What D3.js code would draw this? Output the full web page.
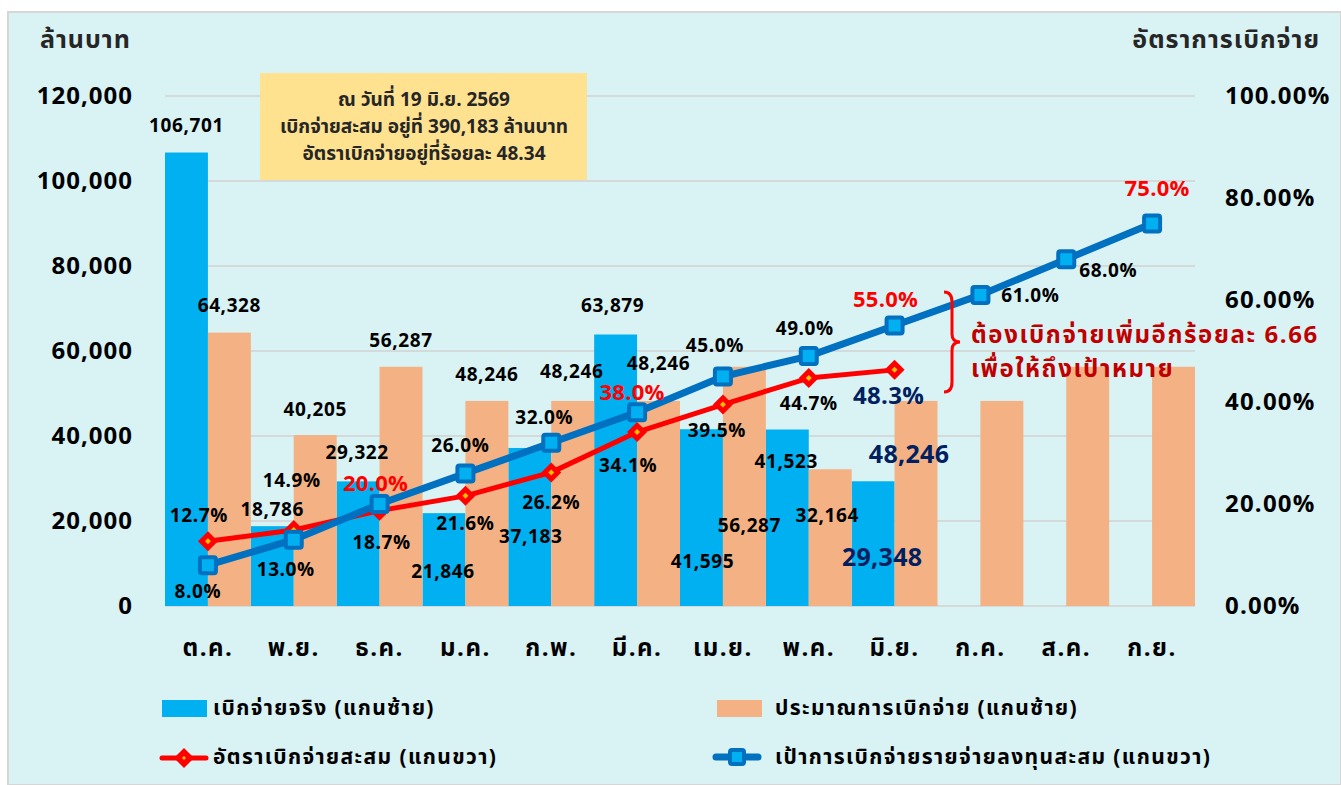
<!DOCTYPE html>
<html>
<head>
<meta charset="utf-8">
<script src="https://cdn.jsdelivr.net/npm/d3@7"></script>
<style>
  body { margin: 0; background: #fff; }
  svg text { font-family: "Noto Sans Thai", "Noto Sans", "DejaVu Sans", sans-serif; font-weight: bold; }
</style>
</head>
<body>
<div id="chart"></div>
<script>
// ---- data ----
var months = ["ต.ค.", "พ.ย.", "ธ.ค.", "ม.ค.", "ก.พ.", "มี.ค.", "เม.ย.", "พ.ค.", "มิ.ย.", "ก.ค.", "ส.ค.", "ก.ย."];
var actual = [106701, 18786, 29322, 21846, 37183, 63879, 41595, 41523, 29348, null, null, null];
var plan = [64328, 40205, 56287, 48246, 48246, 48246, 56287, 32164, 48246, 48246, 56287, 56287];
var cumRate = [12.7, 14.9, 18.7, 21.6, 26.2, 34.1, 39.5, 44.7, 46.3];
var cumRateText = ["12.7%", "14.9%", "18.7%", "21.6%", "26.2%", "34.1%", "39.5%", "44.7%", "48.3%"];
var target = [8.0, 13.0, 20.0, 26.0, 32.0, 38.0, 45.0, 49.0, 55.0, 61.0, 68.0, 75.0];
var leftTicks = [0, 20000, 40000, 60000, 80000, 100000, 120000];
var rightTicks = [0, 0.2, 0.4, 0.6, 0.8, 1.0];

var noteLines = ["ณ วันที่ 19 มิ.ย. 2569", "เบิกจ่ายสะสม อยู่ที่ 390,183 ล้านบาท", "อัตราเบิกจ่ายอยู่ที่ร้อยละ 48.34"];
var gapLines = ["ต้องเบิกจ่ายเพิ่มอีกร้อยละ 6.66", "เพื่อให้ถึงเป้าหมาย"];

// label offsets (dx, dy from the mark)
var actualLbl = [[0,-26],[0,-16],[-1,-28],[-1,59],[1,90],[-3,-28],[1,133],[-1,33],[9,77]];
var planLbl = [[0,-26],[0,-25],[0,-25],[0,-25],[-1,-28],[0,-36],[5,160],[-3,47],[-7,54]];
var targetLbl = [[-10,27],[-8,31],[-4,-20],[-5,-27],[-7,-24],[-5,-19],[-8,-30],[-4,-27],[-9,-25],[50,2],[42,12],[5,-34]];
var rateLbl = [[-9,-25],[-2,-49],[2,33],[0,29],[0,31],[-9,34],[-6,27],[0,26],[-6,27]];

var svgWidth = 1341;
var svgHeight = 785;

var svg = d3.select("#chart")
    .append("svg")
    .attr("width", svgWidth)
    .attr("height", svgHeight);

// panel
svg.append("rect")
    .attr("x", 8).attr("y", 12)
    .attr("width", svgWidth - 8).attr("height", svgHeight - 12)
    .attr("fill", "#d9f2f4")
    .attr("stroke", "#d6d6d6")
    .attr("stroke-width", 2);

var x = d3.scaleBand().domain(months).range([165, 1195]).padding(0);
var y = d3.scaleLinear().domain([0, 120000]).range([606, 96]);
var y2 = d3.scaleLinear().domain([0, 1]).range([606, 96]);
var bw = x.bandwidth() / 2;

// gridlines
svg.append("g").selectAll("line")
    .data(leftTicks)
    .enter().append("line")
    .attr("x1", 165).attr("x2", 1195)
    .attr("y1", d => y(d)).attr("y2", d => y(d))
    .attr("stroke", "#d4d9da")
    .attr("stroke-width", 2);

// axes
var leftAxis = svg.append("g")
    .attr("transform", "translate(137,0)")
    .call(d3.axisLeft(y).tickValues(leftTicks).tickSize(0).tickPadding(4).tickFormat(d3.format(",")));
var rightAxis = svg.append("g")
    .attr("transform", "translate(1221,0)")
    .call(d3.axisRight(y2).tickValues(rightTicks).tickSize(0).tickPadding(4).tickFormat(d3.format(".2%")));
var bottomAxis = svg.append("g")
    .attr("transform", "translate(0,606)")
    .call(d3.axisBottom(x).tickSize(0).tickPadding(33));

[leftAxis, rightAxis, bottomAxis].forEach(function(a) {
    a.select(".domain").remove();
    a.selectAll("text")
        .attr("fill", "#000")
        .style("font-size", "24px")
        .style("letter-spacing", "1px")
        .style("font-family", "\"Noto Sans Thai\", \"Noto Sans\", sans-serif")
        .style("font-weight", "bold");
});
rightAxis.selectAll("text").style("letter-spacing", "1.2px");
bottomAxis.selectAll("text").style("letter-spacing", "1.5px");

// bars
svg.append("g").selectAll("rect")
    .data(months.map((m, i) => ({m: m, v: actual[i]})).filter(d => d.v != null))
    .enter().append("rect")
    .attr("x", d => x(d.m))
    .attr("y", d => y(d.v))
    .attr("width", bw)
    .attr("height", d => y(0) - y(d.v))
    .attr("fill", "#00b0f0");

svg.append("g").selectAll("rect")
    .data(months.map((m, i) => ({m: m, v: plan[i]})))
    .enter().append("rect")
    .attr("x", d => x(d.m) + bw)
    .attr("y", d => y(d.v))
    .attr("width", bw)
    .attr("height", d => y(0) - y(d.v))
    .attr("fill", "#f4b183");

// lines
var cx = m => x(m) + x.bandwidth() / 2;

var targetPts = target.map((v, i) => ({m: months[i], v: v}));
var ratePts = cumRate.map((v, i) => ({m: months[i], v: v}));

var line = d3.line().x(d => cx(d.m)).y(d => y2(d.v / 100));

svg.append("path")
    .datum(ratePts)
    .attr("d", line)
    .attr("fill", "none")
    .attr("stroke", "#ff0000")
    .attr("stroke-width", 5)
    .attr("stroke-linejoin", "round");

svg.append("g").selectAll("g")
    .data(ratePts)
    .enter().append("g")
    .attr("transform", d => `translate(${cx(d.m)},${y2(d.v / 100)})`)
    .each(function() {
        var g = d3.select(this);
        g.append("path").attr("d", "M0,-10L10,0L0,10L-10,0Z").attr("fill", "#ff0000");
        g.append("path").attr("d", "M0,-3L3,0L0,3L-3,0Z").attr("fill", "#ffc000");
    });

svg.append("path")
    .datum(targetPts)
    .attr("d", line)
    .attr("fill", "none")
    .attr("stroke", "#0070c0")
    .attr("stroke-width", 7)
    .attr("stroke-linejoin", "round");

svg.append("g").selectAll("rect")
    .data(targetPts)
    .enter().append("rect")
    .attr("x", d => cx(d.m) - 8)
    .attr("y", d => y2(d.v / 100) - 8)
    .attr("width", 16).attr("height", 16)
    .attr("rx", 2)
    .attr("fill", "#00b0f0")
    .attr("stroke", "#0070c0")
    .attr("stroke-width", 4);

// data labels
function addLabel(tx, ty, text, color, size) {
    svg.append("text")
        .attr("x", tx).attr("y", ty)
        .attr("text-anchor", "middle")
        .attr("dominant-baseline", "central")
        .attr("fill", color)
        .style("font-size", size + "px")
        .style("letter-spacing", size > 20 ? "0.3px" : "0.6px")
        .text(text);
}

actual.forEach(function(v, i) {
    if (v == null) return;
    var big = i === 8;
    addLabel(x(months[i]) + bw / 2 + actualLbl[i][0], y(v) + actualLbl[i][1],
        d3.format(",")(v), big ? "#002060" : "#000", big ? 25 : 19);
});
plan.forEach(function(v, i) {
    if (i > 8) return;
    var big = i === 8;
    addLabel(x(months[i]) + bw * 1.5 + planLbl[i][0], y(v) + planLbl[i][1],
        d3.format(",")(v), big ? "#002060" : "#000", big ? 25 : 19);
});
target.forEach(function(v, i) {
    var red = (i === 2 || i === 5 || i === 8 || i === 11);
    addLabel(cx(months[i]) + targetLbl[i][0], y2(v / 100) + targetLbl[i][1],
        v.toFixed(1) + "%", red ? "#ff0000" : "#000", red ? 22 : 19);
});
cumRate.forEach(function(v, i) {
    var big = i === 8;
    addLabel(cx(months[i]) + rateLbl[i][0], y2(v / 100) + rateLbl[i][1],
        cumRateText[i], big ? "#002060" : "#000", big ? 24 : 19);
});

// axis titles
svg.append("text").attr("x", 40).attr("y", 40)
    .attr("dominant-baseline", "central").attr("fill", "#262626")
    .style("font-size", "25px").style("letter-spacing", "1px").text("ล้านบาท");
svg.append("text").attr("x", 1320).attr("y", 40)
    .attr("text-anchor", "end")
    .attr("dominant-baseline", "central").attr("fill", "#262626")
    .style("font-size", "25px").style("letter-spacing", "1px").text("อัตราการเบิกจ่าย");

// note box
svg.append("rect")
    .attr("x", 260).attr("y", 73)
    .attr("width", 327).attr("height", 107)
    .attr("fill", "#fee290");
noteLines.forEach(function(t, i) {
    svg.append("text")
        .attr("x", 424).attr("y", 100 + i * 27)
        .attr("text-anchor", "middle")
        .attr("dominant-baseline", "central")
        .attr("fill", "#262626")
        .style("font-size", "19px")
        .text(t);
});

// brace + gap note
svg.append("path")
    .attr("d", "M944,292 Q952,292 952,302 L952,334 Q952,342 960,342 Q952,342 952,350 L952,382 Q952,392 944,392")
    .attr("fill", "none")
    .attr("stroke", "#ff0000")
    .attr("stroke-width", 3);
gapLines.forEach(function(t, i) {
    svg.append("text")
        .attr("x", 971).attr("y", 336 + i * 34)
        .attr("dominant-baseline", "central")
        .attr("fill", "#c00000")
        .style("font-size", "24px")
        .style("letter-spacing", "1.6px")
        .text(t);
});

// legend
var legend = svg.append("g");
legend.append("rect").attr("x", 162).attr("y", 700).attr("width", 45).attr("height", 17).attr("fill", "#00b0f0");
legend.append("rect").attr("x", 717).attr("y", 700).attr("width", 45).attr("height", 17).attr("fill", "#f4b183");
legend.append("line").attr("x1", 162).attr("x2", 206).attr("y1", 758).attr("y2", 758)
    .attr("stroke", "#ff0000").attr("stroke-width", 5).attr("stroke-linecap", "round");
legend.append("path").attr("d", "M184,748L194,758L184,768L174,758Z").attr("fill", "#ff0000");
legend.append("path").attr("d", "M184,756L186,758L184,760L182,758Z").attr("fill", "#ffc000");
legend.append("line").attr("x1", 716).attr("x2", 758).attr("y1", 757).attr("y2", 757)
    .attr("stroke", "#0070c0").attr("stroke-width", 7).attr("stroke-linecap", "round");
legend.append("rect").attr("x", 730).attr("y", 750).attr("width", 14).attr("height", 14).attr("rx", 2)
    .attr("fill", "#00b0f0").attr("stroke", "#0070c0").attr("stroke-width", 4);

var legendText = [
    [213, 708, "เบิกจ่ายจริง (แกนซ้าย)"],
    [775, 708, "ประมาณการเบิกจ่าย (แกนซ้าย)"],
    [213, 757, "อัตราเบิกจ่ายสะสม (แกนขวา)"],
    [775, 757, "เป้าการเบิกจ่ายรายจ่ายลงทุนสะสม (แกนขวา)"]
];
legendText.forEach(function(l) {
    legend.append("text")
        .attr("x", l[0]).attr("y", l[1])
        .attr("dominant-baseline", "central")
        .attr("fill", "#000")
        .style("font-size", "21px")
        .style("letter-spacing", "1.4px")
        .text(l[2]);
});
</script>
</body>
</html>
